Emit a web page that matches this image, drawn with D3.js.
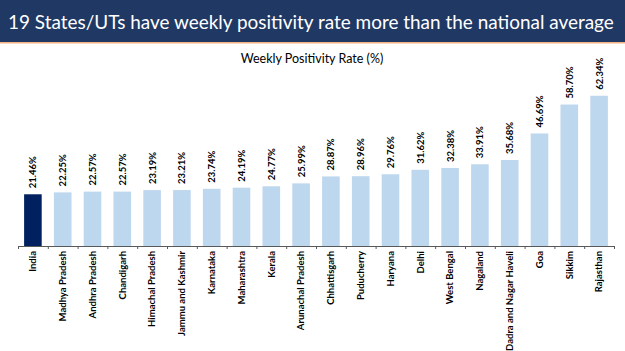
<!DOCTYPE html>
<html>
<head>
<meta charset="utf-8">
<script src="https://cdn.jsdelivr.net/npm/d3@7"></script>
<style>
  body { margin: 0; background: #fff; }
  svg { display: block; }
</style>
</head>
<body>
<div id="chart"></div>
<script>
const states = ['India', 'Madhya Pradesh', 'Andhra Pradesh', 'Chandigarh', 'Himachal Pradesh',
  'Jammu and Kashmir', 'Karnataka', 'Maharashtra', 'Kerala', 'Arunachal Pradesh',
  'Chhattisgarh', 'Puducherry', 'Haryana', 'Delhi', 'West Bengal', 'Nagaland',
  'Dadra and Nagar Haveli', 'Goa', 'Sikkim', 'Rajasthan'];
const rates = [21.46, 22.25, 22.57, 22.57, 23.19, 23.21, 23.74, 24.19, 24.77, 25.99,
  28.87, 28.96, 29.76, 31.62, 32.38, 33.91, 35.68, 46.69, 58.70, 62.34];
const titleText = '19 States/UTs have weekly positivity rate more than the national average';
const chartTitle = 'Weekly Positivity Rate (%)';

const width = 625, height = 351;
const data = states.map((s, i) => ({ name: s, value: rates[i] }));

const svg = d3.select('#chart').append('svg')
  .attr('width', width)
  .attr('height', height);

// banner
svg.append('rect').attr('x', 0).attr('y', 0).attr('width', width).attr('height', 42)
  .attr('fill', '#1F3864');
svg.append('rect').attr('x', 0).attr('y', 42).attr('width', width).attr('height', 1.5)
  .attr('fill', '#F4B183');
const title = svg.append('text')
  .attr('x', 8).attr('y', 29)
  .attr('fill', '#fff')
  .style('font-family', 'Lato, sans-serif')
  .style('font-size', '22px')
  .text(titleText);
// shrink the font until the title fits the banner
const tw = title.node().getComputedTextLength();
if (tw > 606) title.style('font-size', (22 * 606 / tw).toFixed(2) + 'px');

svg.append('text')
  .attr('x', 312).attr('y', 63)
  .attr('text-anchor', 'middle')
  .attr('fill', '#000')
  .style('font-family', 'Lato, sans-serif')
  .style('font-size', '12.5px')
  .text(chartTitle);

const x = d3.scaleBand()
  .domain(states)
  .range([18, 614])
  .paddingInner(0.41)
  .paddingOuter(0.205);

const y = d3.scaleLinear()
  .domain([0, 70])
  .range([246, 246 - 2.41 * 70]);

svg.selectAll('.bar')
  .data(data)
  .enter()
  .append('rect')
  .attr('class', 'bar')
  .attr('x', d => x(d.name))
  .attr('y', d => y(d.value))
  .attr('width', x.bandwidth())
  .attr('height', d => y(0) - y(d.value))
  .attr('fill', (d, i) => i === 0 ? '#002060' : '#BDD7EE');

svg.selectAll('.val')
  .data(data)
  .enter()
  .append('text')
  .attr('class', 'val')
  .attr('transform', d => `translate(${x(d.name) + x.bandwidth() / 2 + 3.5},${y(d.value) - 6}) rotate(-90)`)
  .attr('text-anchor', 'start')
  .attr('fill', '#000')
  .style('font-family', 'Lato, sans-serif')
  .style('font-weight', 'bold')
  .style('font-size', '9.5px')
  .text(d => d.value.toFixed(2) + '%');

// category labels
const xAxis = svg.append('g')
  .attr('transform', 'translate(0,246)')
  .call(d3.axisBottom(x).tickSize(0).tickSizeOuter(0));
xAxis.select('.domain').remove();
xAxis.selectAll('text')
  .attr('transform', 'rotate(-90)')
  .attr('text-anchor', 'end')
  .attr('x', -5)
  .attr('y', 0)
  .attr('dy', '0.35em')
  .attr('fill', '#000')
  .style('font-family', 'Lato, sans-serif')
  .style('font-weight', 'bold')
  .style('font-size', '9.5px');

// baseline with ticks between categories
const edges = d3.scaleLinear().domain([0, states.length]).range([18, 614]);
const tickAxis = svg.append('g')
  .attr('transform', 'translate(0,246)')
  .call(d3.axisBottom(edges).tickValues(d3.range(states.length + 1)).tickSize(3).tickSizeOuter(0).tickFormat(''));
tickAxis.select('.domain').attr('stroke', '#595959');
tickAxis.selectAll('line').attr('stroke', '#595959');
</script>
</body>
</html>
